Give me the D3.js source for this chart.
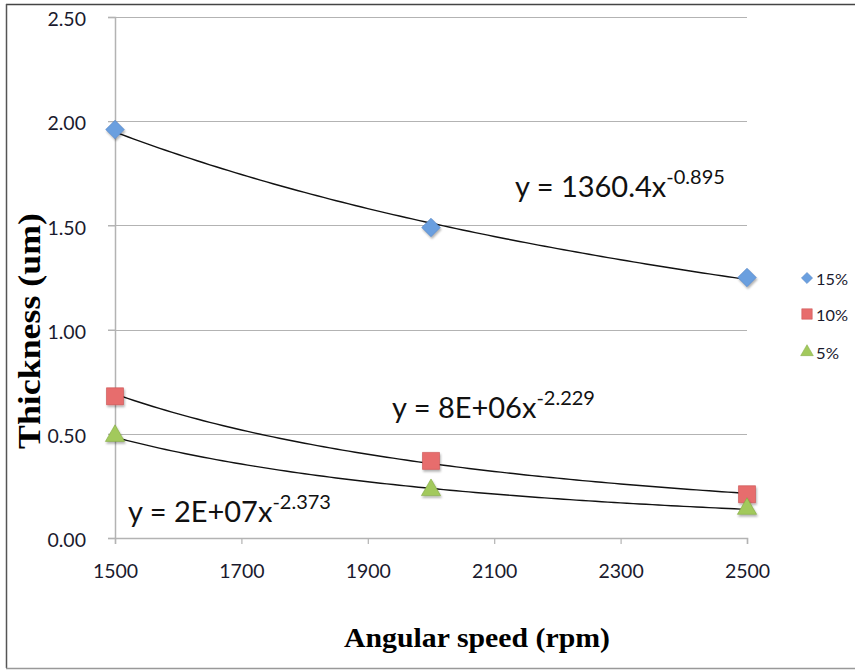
<!DOCTYPE html>
<html><head><meta charset="utf-8">
<script src="https://cdn.jsdelivr.net/npm/d3@7"></script>
<style>body{margin:0;background:#fff}svg{display:block}</style>
</head><body>
<script>
const speeds = [1500, 2000, 2500];
const seriesNames = ["15%", "10%", "5%"];
const values15 = [1.96, 1.49, 1.25];
const values10 = [0.68, 0.37, 0.21];
const values5 = [0.49, 0.23, 0.14];
const equations = [
  {base: "y = 1360.4x", exp: "-0.895"},
  {base: "y = 8E+06x", exp: "-2.229"},
  {base: "y = 2E+07x", exp: "-2.373"}
];
const xTicks = [1500, 1700, 1900, 2100, 2300, 2500];
const yTicks = [0, 0.5, 1.0, 1.5, 2.0, 2.5];

const W = 855, H = 670;
const svg = d3.select("body").append("svg").attr("width", W).attr("height", H);
svg.append("rect").attr("width", W).attr("height", H).attr("fill", "#fff");
// frame
svg.append("line").attr("x1",6).attr("x2",W).attr("y1",4.5).attr("y2",4.5).attr("stroke","#444").attr("stroke-width",1.5);
svg.append("line").attr("x1",6.5).attr("x2",6.5).attr("y1",4).attr("y2",668).attr("stroke","#555").attr("stroke-width",1.5);
svg.append("line").attr("x1",6).attr("x2",W).attr("y1",668.5).attr("y2",668.5).attr("stroke","#999").attr("stroke-width",1.5);

const x = d3.scaleLinear().domain([1500, 2500]).range([115, 747]);
const y = d3.scaleLinear().domain([0, 2.5]).range([538, 17]);

const font = "Lato, 'Open Sans', sans-serif";

// gridlines
svg.append("g").selectAll("line").data(yTicks.filter(d=>d>0)).join("line")
  .attr("x1", 108).attr("x2", x(2500)).attr("y1", d=>Math.round(y(d))+0.5).attr("y2", d=>Math.round(y(d))+0.5)
  .attr("stroke", "#b3b3b3").attr("stroke-width", 1.2);

// y axis
const yAxis = svg.append("g").attr("transform", `translate(${x(1500)},0)`)
  .call(d3.axisLeft(y).tickValues(yTicks).tickFormat(d3.format(".2f")).tickSize(7).tickPadding(22));
yAxis.select(".domain").attr("stroke", "#b3b3b3").attr("stroke-width", 1.5);
yAxis.selectAll(".tick line").attr("stroke", "#b3b3b3").attr("stroke-width", 1.2);
yAxis.selectAll("text").attr("font-family", font).attr("font-size", 19.5).attr("fill", "#1a1a2e").attr("dy", "0.45em");

// x axis
const xAxis = svg.append("g").attr("transform", `translate(0,${y(0)})`)
  .call(d3.axisBottom(x).tickValues(xTicks).tickFormat(d3.format("d")).tickSize(6).tickPadding(20));
xAxis.select(".domain").attr("stroke", "#b3b3b3").attr("stroke-width", 1.5);
xAxis.selectAll(".tick line").attr("stroke", "#b3b3b3").attr("stroke-width", 1.2);
xAxis.selectAll("text").attr("font-family", font).attr("font-size", 19.5).attr("fill", "#1a1a2e");

// axis titles
svg.append("text").attr("transform", "translate(40,331) rotate(-90)").attr("text-anchor","middle")
  .attr("font-family","'Liberation Serif', 'Times New Roman', serif").attr("font-weight","bold").attr("font-size",31)
  .attr("textLength", 236).attr("lengthAdjust","spacingAndGlyphs")
  .text("Thickness (um)");
svg.append("text").attr("x", 477).attr("y", 647).attr("text-anchor","middle")
  .attr("font-family","'Liberation Serif', 'Times New Roman', serif").attr("font-weight","bold").attr("font-size",28)
  .attr("textLength", 266).attr("lengthAdjust","spacingAndGlyphs")
  .text("Angular speed (rpm)");

const allSeries = [values15, values10, values5];
const colors = ["#6a9fdf", "#e76d6d", "#a2c95c"];
const strokes = ["#4f80c2", "#c95050", "#82a842"];

// power trendlines from least squares in log space
function powerFit(xs, ys) {
  const lx = xs.map(Math.log), ly = ys.map(Math.log);
  const mx = d3.mean(lx), my = d3.mean(ly);
  const b = d3.sum(lx.map((v,i)=>(v-mx)*(ly[i]-my))) / d3.sum(lx.map(v=>(v-mx)*(v-mx)));
  const a = Math.exp(my - b*mx);
  return xv => a*Math.pow(xv, b);
}
const line = d3.line().x(d=>x(d[0])).y(d=>y(d[1])).curve(d3.curveLinear);
const shadow = svg.append("defs").append("filter").attr("id","sh").attr("x","-50%").attr("y","-50%").attr("width","200%").attr("height","200%");
shadow.append("feDropShadow").attr("dx",1).attr("dy",2).attr("stdDeviation",1.2).attr("flood-color","#000").attr("flood-opacity",0.3);

allSeries.forEach((vals, i) => {
  const f = powerFit(speeds, vals);
  const pts = d3.range(1500, 2501, 10).map(s => [s, f(s)]);
  svg.append("path").attr("d", line(pts)).attr("fill","none").attr("stroke","#111").attr("stroke-width",1.4);
});

const symbols = [d3.symbolDiamond2, d3.symbolSquare, d3.symbolTriangle];
const sizes = [220, 290, 160];
allSeries.forEach((vals, i) => {
  svg.append("g").selectAll("path").data(vals).join("path")
    .attr("transform", (d, j) => `translate(${x(speeds[j])},${y(d)})`)
    .attr("d", d3.symbol().type(symbols[i]).size(sizes[i]))
    .attr("fill", colors[i]).attr("stroke", strokes[i]).attr("stroke-width", 0.6)
    .attr("filter", "url(#sh)");
});

// equations
const eqPos = [[515, 197], [392, 418], [128, 522]];
equations.forEach((e, i) => {
  const t = svg.append("text").attr("x", eqPos[i][0]).attr("y", eqPos[i][1])
    .attr("font-family", font).attr("font-size", 29).attr("fill", "#111");
  t.append("tspan").text(e.base);
  t.append("tspan").attr("dy", -13).attr("font-size", 20).text(e.exp);
});

// legend
const lg = svg.append("g");
const legY = [278, 314, 352];
const legLen = [32, 32, 23];
seriesNames.forEach((n, i) => {
  lg.append("path").attr("transform", `translate(${807},${legY[i]})`)
    .attr("d", d3.symbol().type(symbols[i]).size([80, 110, 70][i]))
    .attr("fill", colors[i]).attr("stroke", strokes[i]).attr("stroke-width", 0.5);
  lg.append("text").attr("x", 816).attr("y", legY[i] + 7).attr("font-family", font).attr("font-size", 15)
    .attr("textLength", legLen[i]).attr("lengthAdjust","spacingAndGlyphs")
    .attr("fill", "#1a1a2e").text(n);
});
</script>
</body></html>
